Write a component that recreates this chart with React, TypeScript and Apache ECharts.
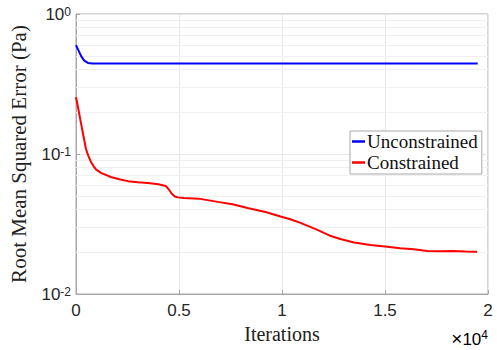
import React, { useEffect, useRef } from "react";
import * as echarts from "echarts";

// Training history: [iteration, RMSE in Pa]
const unconstrained: [number, number][] = [
  [0, 0.6], [120, 0.55], [250, 0.5], [400, 0.465], [580, 0.447], [800, 0.443],
  [5000, 0.443], [10000, 0.443], [15000, 0.443], [19500, 0.443],
];

const constrained: [number, number][] = [
  [0, 0.255], [100, 0.215], [242, 0.166], [360, 0.135], [484, 0.1085],
  [600, 0.097], [726, 0.0877], [850, 0.082], [970, 0.0776], [1210, 0.0733],
  [1695, 0.0685], [2100, 0.066], [2520, 0.064], [3000, 0.0628], [3490, 0.062],
  [4000, 0.0608], [4360, 0.059], [4500, 0.056], [4650, 0.052], [4800, 0.0497],
  [4940, 0.049], [5230, 0.0485], [5960, 0.048], [6880, 0.0455], [7600, 0.0437],
  [8330, 0.0411], [9200, 0.0385], [9930, 0.0358], [10400, 0.0342], [10900, 0.0322],
  [11720, 0.0287], [12300, 0.0262], [12830, 0.0247], [13500, 0.0233],
  [14290, 0.0224], [15000, 0.0218], [15740, 0.0212], [16400, 0.0209],
  [17050, 0.0203], [17700, 0.0202], [18300, 0.0203], [18900, 0.0201], [19470, 0.02],
];

const seriesNames = ["Unconstrained", "Constrained"];
const seriesColors = ["#0000ff", "#ff0000"];
const xTicks = [0, 5000, 10000, 15000, 20000];
const minorLevels = [
  0.02, 0.03, 0.04, 0.05, 0.06, 0.07, 0.08, 0.09,
  0.2, 0.3, 0.4, 0.5, 0.6, 0.7, 0.8, 0.9,
];

const SERIF = "'Liberation Serif', 'Times New Roman', serif";
const SANS = "'Liberation Sans', Arial, sans-serif";

export default function App() {
  const ref = useRef<HTMLDivElement>(null);

  useEffect(() => {
    if (!ref.current) return;
    const chart = echarts.init(ref.current, null, { renderer: "svg" });

    chart.setOption({
      animation: false,
      backgroundColor: "#ffffff",
      grid: {
        left: 75,
        right: 9,
        top: 14,
        bottom: 56,
        show: true,
        borderColor: "#a8a8a8",
        borderWidth: 1,
      },
      legend: {
        orient: "vertical",
        left: 350,
        top: 131,
        width: 132,
        padding: [1, 4, 2, 2],
        itemGap: 2,
        itemWidth: 13,
        itemHeight: 2.5,
        icon: "rect",
        borderColor: "#a8a8a8",
        borderWidth: 1,
        backgroundColor: "#ffffff",
        textStyle: {
          fontFamily: SERIF,
          fontSize: 19,
          color: "#111",
          padding: [0, 0, 0, -3],
        },
        data: seriesNames,
      },
      xAxis: {
        type: "value",
        min: xTicks[0],
        max: xTicks[xTicks.length - 1],
        interval: 5000,
        name: "Iterations",
        nameLocation: "middle",
        nameGap: 27,
        nameTextStyle: { fontFamily: SERIF, fontSize: 20, color: "#222" },
        axisLine: { show: true, lineStyle: { color: "#a8a8a8" } },
        axisTick: { show: true, inside: true, length: 4, lineStyle: { color: "#a8a8a8" } },
        axisLabel: {
          fontFamily: SANS,
          fontSize: 17,
          color: "#262626",
          margin: 8,
          formatter: (v: number) => String(v / 10000),
        },
        splitLine: { show: true, lineStyle: { color: "#e8e8e8", width: 1 } },
      },
      yAxis: {
        type: "log",
        logBase: 10,
        min: 0.01,
        max: 1,
        name: "Root Mean Squared Error (Pa)",
        nameLocation: "middle",
        nameGap: 47,
        nameTextStyle: { fontFamily: SERIF, fontSize: 21, color: "#222" },
        axisLine: { show: true, lineStyle: { color: "#a8a8a8" } },
        axisTick: { show: true, inside: true, length: 4, lineStyle: { color: "#a8a8a8" } },
        axisLabel: {
          margin: 5,
          formatter: (v: number) => `{b|10}{s|${Math.round(Math.log10(v))}}`,
          rich: {
            b: { fontFamily: SANS, fontSize: 17, color: "#262626", verticalAlign: "bottom" },
            s: { fontFamily: SANS, fontSize: 12, color: "#262626", verticalAlign: "top" },
          },
        },
        splitLine: { show: true, lineStyle: { color: "#e8e8e8", width: 1 } },
      },
      graphic: [
        {
          type: "text",
          right: 9,
          top: 329,
          style: {
            text: "{x|×}{b|10}{s|4}",
            rich: {
              x: { fontFamily: SANS, fontSize: 19, color: "#262626", verticalAlign: "bottom" },
              b: { fontFamily: SANS, fontSize: 17, color: "#262626", verticalAlign: "bottom" },
              s: { fontFamily: SANS, fontSize: 12, color: "#262626", verticalAlign: "top" },
            },
          },
        },
      ],
      series: [
        {
          name: seriesNames[0],
          type: "line",
          data: unconstrained,
          showSymbol: false,
          smooth: false,
          z: 3,
          lineStyle: { color: seriesColors[0], width: 2 },
          itemStyle: { color: seriesColors[0] },
          markLine: {
            silent: true,
            symbol: ["none", "none"],
            label: { show: false },
            lineStyle: { color: "#f0f0f0", type: "solid", width: 1 },
            data: minorLevels.map((v) => ({ yAxis: v })),
            z: 1,
          },
        },
        {
          name: seriesNames[1],
          type: "line",
          data: constrained,
          showSymbol: false,
          smooth: false,
          z: 4,
          lineStyle: { color: seriesColors[1], width: 2 },
          itemStyle: { color: seriesColors[1] },
        },
      ],
    });

    return () => chart.dispose();
  }, []);

  return <div ref={ref} style={{ width: 497, height: 350, position: "absolute", left: 0, top: 0 }} />;
}
